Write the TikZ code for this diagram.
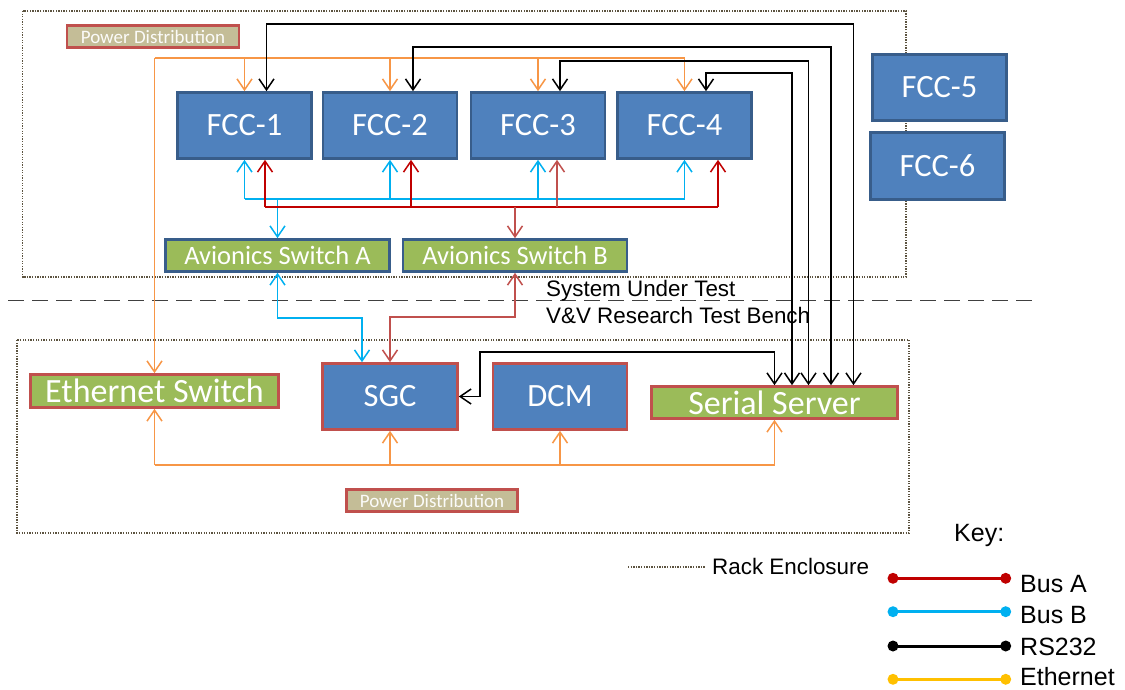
\documentclass[tikz,border=0pt]{standalone}
\usepackage{fontspec}
\setmainfont{Carlito}
\newfontfamily\arialfont{Liberation Sans}
\usetikzlibrary{arrows.meta}

\definecolor{fccblue}{HTML}{4F81BD}
\definecolor{fccedge}{HTML}{385D8A}
\definecolor{swgreen}{HTML}{9BBB59}
\definecolor{rededge}{HTML}{C0504D}
\definecolor{pdtan}{HTML}{C4BD97}
\definecolor{pwrorange}{HTML}{F79646}
\definecolor{busBcol}{HTML}{00B0F0}
\definecolor{busAcol}{HTML}{C00000}
\definecolor{busAlight}{HTML}{C0504D}
\definecolor{rackdot}{HTML}{5C5340}
\definecolor{ethkey}{HTML}{FFC000}
\definecolor{divgray}{HTML}{404040}

\begin{document}
\begin{tikzpicture}[x=1pt,y=-1pt,
  >={Straight Barb[length=11pt,width=15pt]},
  unit/.style={rectangle, line width=2.6pt, inner sep=0pt, text=white},
  fccbox/.style={unit, fill=fccblue, draw=fccedge, minimum width=134pt, minimum height=66pt,
                 font=\fontsize{32.5}{38}\selectfont},
  benchbox/.style={unit, fill=fccblue, draw=rededge, minimum width=135pt, minimum height=66pt,
                 font=\fontsize{32.5}{38}\selectfont},
  avswitch/.style={unit, fill=swgreen, draw=fccedge, minimum width=224pt, minimum height=32pt,
                 font=\fontsize{26.5}{30}\selectfont},
  greenbox/.style={unit, fill=swgreen, draw=rededge, minimum height=33pt,
                 font=\fontsize{34}{38}\selectfont},
  pdbox/.style={unit, fill=pdtan, draw=rededge, minimum width=172pt, minimum height=22pt,
                 text=white!94!pdtan, font=\fontsize{19}{22}\selectfont},
  rack/.style={draw=rackdot, line width=1.3pt, dash pattern=on 1.3pt off 1.3pt},
  divider/.style={draw=divgray, line width=1.5pt, dash pattern=on 16pt off 8pt},
  wire/.style={line width=1.5pt},
  pwr/.style={wire, draw=pwrorange},
  busB/.style={wire, draw=busBcol},
  busA/.style={wire, draw=busAcol},
  busAl/.style={wire, draw=busAlight},
  rs/.style={wire, draw=black},
  lbl/.style={inner sep=0pt, anchor=base west, font=\arialfont\fontsize{22.4}{26}\selectfont},
  keylbl/.style={inner sep=0pt, anchor=base west, font=\arialfont\fontsize{25}{30}\selectfont},
  keyline/.style={line width=3pt},
]
\useasboundingbox (0,0) rectangle (1125,690);

% rack enclosures and the boundary between the two areas
\draw[rack] (22.5,11) rectangle (906,277);
\draw[rack] (17,340) rectangle (909,533);
\draw[divider] (8,300.7) -- (1035,300.7);

% system under test
\node[pdbox] (pdTop) at (153,36.5) {Power Distribution};
\node[fccbox] (fcc1) at (244.5,125.5) {FCC-1};
\node[fccbox] (fcc2) at (390,125.5) {FCC-2};
\node[fccbox] (fcc3) at (538,125.5) {FCC-3};
\node[fccbox] (fcc4) at (684.5,125.5) {FCC-4};
\node[fccbox] (fcc5) at (939.5,87.5) {FCC-5};
\node[fccbox, minimum height=67pt] (fcc6) at (937.5,166) {FCC-6};
\node[avswitch] (swA) at (277.5,255.5) {Avionics Switch A};
\node[avswitch] (swB) at (515,255.5) {Avionics Switch B};

% test bench
\node[greenbox, minimum width=248pt] (eth) at (154.5,391) {Ethernet Switch};
\node[benchbox] (sgc) at (390,396.5) {SGC};
\node[benchbox, minimum width=134pt] (dcm) at (560,396.5) {DCM};
\node[greenbox, minimum width=246pt, minimum height=32pt] (ser) at (774.5,402.5) {Serial Server};
\node[pdbox, minimum width=171pt] (pdBot) at (432,500.5) {Power Distribution};

\node[lbl] (sut) at (546,296) {System Under Test};
\node[lbl] (vvb) at (546,323) {V\&V Research Test Bench};

% power feed across the upper rack
\coordinate (pwrTop) at (154.5,58);
\draw[pwr] (pwrTop) -- (pwrTop -| fcc4.north);
\draw[pwr,->] (pwrTop) -- (eth.north);
\foreach \f in {fcc1,fcc2,fcc3,fcc4}
  \draw[pwr,->] (pwrTop -| \f.north) -- (\f.north);

% RS232 lines from the serial server
\draw[rs,<->] ([xshift=22]fcc1.north) -- ++(0,-67) -| ([xshift=79]ser.north);
\draw[rs,<->] ([xshift=23]fcc2.north) -- ++(0,-44) -| ([xshift=56.5]ser.north);
\draw[rs,<->] ([xshift=22]fcc3.north) -- ++(0,-30) -| ([xshift=34]ser.north);
\draw[rs,<->] ([xshift=21.5]fcc4.north) -- ++(0,-18) -| ([xshift=17.5]ser.north);
\draw[rs,<->] (ser.north) -- ++(0,-33) -| ([xshift=21]sgc.east) -- (sgc.east);

% bus B
\coordinate (busBy) at (0,199);
\draw[busB] (fcc1.south |- busBy) -- (fcc4.south |- busBy);
\foreach \f in {fcc1,fcc2,fcc3,fcc4}
  \draw[busB,->] (\f.south |- busBy) -- (\f.south);
\draw[busB,->] (swA.north |- busBy) -- (swA.north);

% bus A
\coordinate (busAy) at (0,207);
\coordinate (a1) at ([xshift=20.5]fcc1.south);
\coordinate (a2) at ([xshift=21]fcc2.south);
\coordinate (a3) at ([xshift=19]fcc3.south);
\coordinate (a4) at ([xshift=33.5]fcc4.south);
\draw[busA] (a1 |- busAy) -- (a4 |- busAy);
\draw[busA,->] (a1 |- busAy) -- (a1);
\draw[busA,->] (a2 |- busAy) -- (a2);
\draw[busAl,->] (a3 |- busAy) -- (a3);
\draw[busA,->] (a4 |- busAy) -- (a4);
\draw[busAl,->] (swB.north |- busAy) -- (swB.north);

% avionics switches down to the SGC
\draw[busB,<->] (swA.south) -- ++(0,45) -| ([xshift=-28]sgc.north);
\draw[busAl,<->] (swB.south) -- ++(0,44) -| (sgc.north);

% power feed across the lower rack
\coordinate (pwrBot) at (0,465);
\draw[pwr] (eth.south |- pwrBot) -- (ser.south |- pwrBot);
\foreach \u in {eth,sgc,dcm,ser}
  \draw[pwr,->] (\u.south |- pwrBot) -- (\u.south);

% key
\node[keylbl] (keyT) at (954,541.7) {Key:};
\draw[rack] (628,567) -- (705,567);
\node[lbl] (rackT) at (712,574.3) {Rack Enclosure};
\foreach \c/\y/\b/\t in {busAcol/578.3/592/Bus A, busBcol/611.7/623/Bus B,
                         black/646/655/RS232, ethkey/679.3/685.5/Ethernet}{
  \draw[keyline, draw=\c] (893,\y) -- (1005.7,\y);
  \fill[\c] (893,\y) circle[radius=5.5pt] (1005.7,\y) circle[radius=5.5pt];
  \node[keylbl] at (1020,\b) {\t};
}
\end{tikzpicture}
\end{document}
